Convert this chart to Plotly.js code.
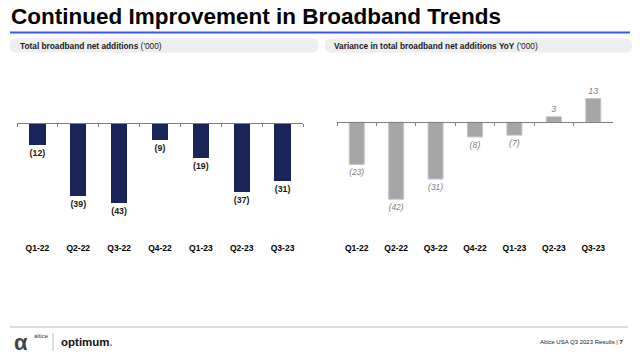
<!DOCTYPE html>
<html>
<head>
<meta charset="utf-8">
<script src="https://cdn.plot.ly/plotly-3.0.1.min.js"></script>
<style>html,body{margin:0;padding:0;background:#fff;}#chart{width:640px;height:358px;}</style>
</head>
<body>
<div id="chart"></div>
<script>
// ---- data ----
const quarters = ["Q1-22", "Q2-22", "Q3-22", "Q4-22", "Q1-23", "Q2-23", "Q3-23"];
const netAdds = [-12, -39, -43, -9, -19, -37, -31];
const yoyVariance = [-23, -42, -31, -8, -7, 3, 13];

const mainTitle = "Continued Improvement in Broadband Trends";
const leftTitle = "<b>Total broadband net additions</b> ('000)";
const rightTitle = "<b>Variance in total broadband net additions YoY</b> ('000)";
const footerText = "Altice USA Q3 2023 Results | <b>7</b>";

// ---- helpers (pixel -> paper) ----
const W = 640, H = 358;
const px = x => x / W;
const py = y => 1 - y / H;
const fmt = v => v < 0 ? "(" + Math.abs(v) + ")" : String(v);

const FONT = "Liberation Sans, Arial, sans-serif";

const traces = [
  {
    type: "bar", x: quarters, y: netAdds, xaxis: "x", yaxis: "y",
    marker: {color: "#1b2459"}, width: 0.4,
    text: netAdds.map(fmt), textposition: "outside", cliponaxis: false,
    textfont: {family: FONT, size: 8.8, color: "#1a1a1a", weight: "bold"},
    hoverinfo: "skip"
  },
  {
    type: "bar", x: quarters, y: yoyVariance, xaxis: "x2", yaxis: "y2",
    marker: {color: "#a6a6a6", line: {color: "#c4c4c4", width: 1}}, width: 0.38,
    text: yoyVariance.map(fmt), textposition: "outside", cliponaxis: false,
    textfont: {family: FONT, size: 8.8, color: "#7f7f7f", style: "italic"},
    hoverinfo: "skip"
  },
  // carriers for the zero-line category axes (no visible marks)
  {type: "scatter", mode: "markers", x: quarters, y: quarters.map(() => null),
   xaxis: "x3", yaxis: "y", hoverinfo: "skip", marker: {opacity: 0}},
  {type: "scatter", mode: "markers", x: quarters, y: quarters.map(() => null),
   xaxis: "x4", yaxis: "y2", hoverinfo: "skip", marker: {opacity: 0}}
];

function roundRect(x0, y0, x1, y1, r) {
  const X = v => px(v).toFixed(5), Y = v => py(v).toFixed(5);
  return `M${X(x0 + r)},${Y(y0)} L${X(x1 - r)},${Y(y0)} Q${X(x1)},${Y(y0)} ${X(x1)},${Y(y0 + r)} ` +
         `L${X(x1)},${Y(y1 - r)} Q${X(x1)},${Y(y1)} ${X(x1 - r)},${Y(y1)} L${X(x0 + r)},${Y(y1)} ` +
         `Q${X(x0)},${Y(y1)} ${X(x0)},${Y(y1 - r)} L${X(x0)},${Y(y0 + r)} Q${X(x0)},${Y(y0)} ${X(x0 + r)},${Y(y0)} Z`;
}

const catAxisLabels = {
  type: "category", categoryarray: quarters, range: [-0.5, 6.5], fixedrange: true,
  showline: false, ticks: "", showgrid: false, zeroline: false,
  tickfont: {family: FONT, size: 8.5, color: "#000", weight: "bold"}
};
const catAxisLine = {
  type: "category", categoryarray: quarters, range: [-0.5, 6.5], fixedrange: true,
  showline: true, linecolor: "#7f7f7f", linewidth: 1,
  ticks: "outside", ticklen: 3, tickcolor: "#7f7f7f", tickson: "boundaries",
  showticklabels: false, showgrid: false, zeroline: false, anchor: "free"
};

const plotTop = 85, plotBot = 241;
const zL = 122.7, zR = 122.3;

const layout = {
  width: W, height: H,
  margin: {l: 0, r: 0, t: 0, b: 0},
  paper_bgcolor: "#fff", plot_bgcolor: "rgba(0,0,0,0)",
  showlegend: false, bargap: 0,
  font: {family: FONT},
  xaxis: Object.assign({}, catAxisLabels, {domain: [px(17), px(303)], anchor: "y"}),
  yaxis: {domain: [py(plotBot), py(plotTop)], range: [-(plotBot - zL) / 1.87, (zL - plotTop) / 1.87],
          visible: false, fixedrange: true, zeroline: false, showgrid: false},
  xaxis2: Object.assign({}, catAxisLabels, {domain: [px(337), px(613)], anchor: "y2"}),
  yaxis2: {domain: [py(plotBot), py(plotTop)], range: [-(plotBot - zR) / 1.83, (zR - plotTop) / 1.83],
           visible: false, fixedrange: true, zeroline: false, showgrid: false},
  xaxis3: Object.assign({}, catAxisLine, {domain: [px(17), px(303)], overlaying: "x", position: py(zL)}),
  xaxis4: Object.assign({}, catAxisLine, {domain: [px(337), px(613)], overlaying: "x2", position: py(zR)}),
  shapes: [
    {type: "line", xref: "paper", yref: "paper", x0: px(10), x1: px(630), y0: py(32.5), y1: py(32.5),
     line: {color: "#3b55e6", width: 2}},
    {type: "path", xref: "paper", yref: "paper", path: roundRect(10, 38.5, 318, 52.5, 6),
     fillcolor: "#eeeeee", line: {width: 0}},
    {type: "path", xref: "paper", yref: "paper", path: roundRect(325, 38.5, 632, 52.5, 6),
     fillcolor: "#eeeeee", line: {width: 0}},
    {type: "line", xref: "paper", yref: "paper", x0: px(10), x1: px(628), y0: py(327), y1: py(327),
     line: {color: "#bdbdbd", width: 1}},
    {type: "line", xref: "paper", yref: "paper", x0: px(53), x1: px(53), y0: py(333), y1: py(351),
     line: {color: "#bdbdbd", width: 1}}
  ],
  annotations: [
    {text: "<b>" + mainTitle + "</b>", xref: "paper", yref: "paper", x: px(9), y: py(17),
     xanchor: "left", yanchor: "middle", showarrow: false,
     font: {family: FONT, size: 22.5, color: "#000"}},
    {text: leftTitle, xref: "paper", yref: "paper", x: px(18), y: py(45.5),
     xanchor: "left", yanchor: "middle", showarrow: false,
     font: {family: FONT, size: 8.3, color: "#1a1a1a"}},
    {text: rightTitle, xref: "paper", yref: "paper", x: px(332), y: py(45.5),
     xanchor: "left", yanchor: "middle", showarrow: false,
     font: {family: FONT, size: 8.3, color: "#1a1a1a"}},
    {text: "<b>α</b>", xref: "paper", yref: "paper", x: px(12), y: py(342),
     xanchor: "left", yanchor: "middle", showarrow: false,
     font: {family: FONT, size: 22, color: "#444"}},
    {text: "altice", xref: "paper", yref: "paper", x: px(32), y: py(336),
     xanchor: "left", yanchor: "middle", showarrow: false,
     font: {family: FONT, size: 6, color: "#333"}},
    {text: "<b>optimum</b><b><span style='color:#f26b1d'>.</span></b>", xref: "paper", yref: "paper", x: px(59), y: py(342),
     xanchor: "left", yanchor: "middle", showarrow: false,
     font: {family: FONT, size: 11.5, color: "#111"}},
    {text: footerText, xref: "paper", yref: "paper", x: px(626), y: py(342),
     xanchor: "right", yanchor: "middle", showarrow: false,
     font: {family: FONT, size: 6, color: "#222"}}
  ]
};

Plotly.newPlot("chart", traces, layout, {staticPlot: true, displayModeBar: false});
</script>
</body>
</html>
